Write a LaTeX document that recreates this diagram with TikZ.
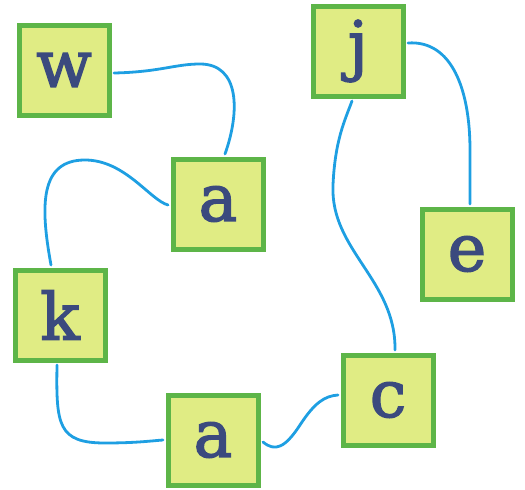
\documentclass[tikz,border=0pt]{standalone}
\usepackage{fontspec}
\newfontfamily\letterfont[FakeBold=2.2]{DejaVu Serif}
\usetikzlibrary{calc}
\definecolor{boxgreen}{HTML}{5DB548}
\definecolor{boxfill}{HTML}{E0EC84}
\definecolor{lettercol}{HTML}{3B4A7E}
\definecolor{wire}{HTML}{1E9FE2}
\tikzset{
  letterbox/.style={draw=boxgreen, fill=boxfill, line width=5pt, minimum size=90pt,
    inner sep=0pt, text=lettercol, font=\letterfont\fontsize{65}{70}\selectfont},
  wireline/.style={draw=wire, line width=2.8pt, line cap=round}
}
\begin{document}
\begin{tikzpicture}[x=1pt,y=-1pt]
\useasboundingbox (0,0) rectangle (525,490);
\node[letterbox] (w)  at (64,70)   {w};
\node[letterbox] (a1) at (218,204) {a};
\node[letterbox] (k)  at (60,315)  {k};
\node[letterbox] (a2) at (213,440) {a};
\node[letterbox] (c)  at (388,400) {c};
\node[letterbox] (e)  at (467,254) {e};
\node[letterbox] (j)  at (358,51)  {j};
\draw[wireline] ($(w.east)+(2.5,3)$) .. controls (160,72) and (175,64) .. (200,64)
   .. controls (240,64) and (240,112) .. ($(a1.north)+(7,-2.5)$);
\draw[wireline] ($(a1.west)+(-2.5,1)$) .. controls (150,200) and (125,160) .. (85,160)
   .. controls (40,160) and (40,205) .. ($(k.north)+(-9,-2.5)$);
\draw[wireline] ($(k.south)+(-3,2.5)$) .. controls (56,425) and (58,443) .. (105,443)
   .. controls (135,443) and (150,441) .. ($(a2.west)+(-2.5,0)$);
\draw[wireline] ($(a2.east)+(2.5,2)$) .. controls (275,452) and (285,448) .. (300,425)
   .. controls (315,402) and (325,396) .. ($(c.west)+(-2.5,-5)$);
\draw[wireline] ($(c.north)+(7,-2.5)$) .. controls (396,280) and (330,250) .. (333,185)
   .. controls (335,140) and (345,120) .. ($(j.south)+(-6,2.5)$);
\draw[wireline] ($(j.east)+(2.5,-8)$) .. controls (452,40) and (470,90) .. (470,150)
   -- ($(e.north)+(3,-2.5)$);
\end{tikzpicture}
\end{document}
